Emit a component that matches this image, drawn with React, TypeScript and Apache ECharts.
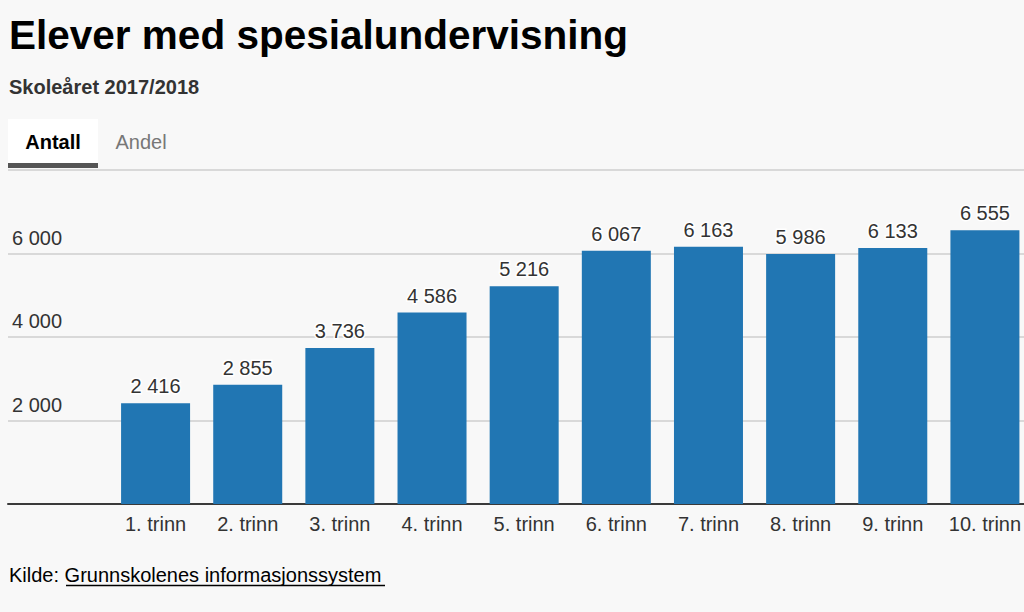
import React, { useEffect, useRef } from "react";
import * as echarts from "echarts";

const categories = ["1. trinn", "2. trinn", "3. trinn", "4. trinn", "5. trinn", "6. trinn", "7. trinn", "8. trinn", "9. trinn", "10. trinn"];
const values = [2416, 2855, 3736, 4586, 5216, 6067, 6163, 5986, 6133, 6555];
const yTicks = [0, 2000, 4000, 6000, 8000];

const titleText = "Elever med spesialundervisning";
const subtitleText = "Skoleåret 2017/2018";
const tabs = ["Antall", "Andel"];
const sourceLabel = "Kilde: ";
const sourceLink = "Grunnskolenes informasjonssystem";

const FONT = "'Liberation Sans', Arial, sans-serif";
const fmt = (v: number) => String(v).replace(/\B(?=(\d{3})+(?!\d))/g, " ");

export default function App() {
  const ref = useRef<HTMLDivElement>(null);
  useEffect(() => {
    document.body.style.margin = "0";
    const chart = echarts.init(ref.current!, undefined, { renderer: "svg" });
    const yMax = yTicks[yTicks.length - 1];
    chart.setOption({
      animation: false,
      backgroundColor: "#f8f8f8",
      textStyle: { fontFamily: FONT },
      grid: [
        { left: 8, right: 0, top: 170, bottom: 108, outerBoundsMode: "none", containLabel: false },
        { left: 109.5, width: 921.5, top: 170, bottom: 108, outerBoundsMode: "none", containLabel: false },
      ],
      xAxis: [
        {
          gridIndex: 0, type: "value", min: 0, max: 1,
          axisLine: { show: true, lineStyle: { color: "#3a3a3a", width: 2 } },
          axisTick: { show: false }, axisLabel: { show: false }, splitLine: { show: false },
        },
        {
          gridIndex: 1, type: "category", data: categories,
          axisLine: { show: false }, axisTick: { show: false },
          axisLabel: { color: "#333", fontSize: 20, margin: 10, fontFamily: FONT, interval: 0 },
        },
      ],
      yAxis: [
        {
          gridIndex: 0, type: "value", min: 0, max: yMax, interval: 2000,
          axisLine: { show: false }, axisTick: { show: false },
          splitLine: { show: true, lineStyle: { color: "#d9d9d9", width: 2 } },
          axisLabel: {
            inside: true, margin: 4, align: "left", verticalAlign: "bottom", lineHeight: 32,
            color: "#333", fontSize: 20, fontFamily: FONT,
            formatter: (v: number) => (v === 0 || v === yMax ? "" : fmt(v)),
          },
        },
        {
          gridIndex: 1, type: "value", min: 0, max: yMax, interval: 2000, show: false,
          splitLine: { show: false },
        },
      ],
      series: [
        {
          type: "bar", xAxisIndex: 1, yAxisIndex: 1, data: values,
          barWidth: 69,
          itemStyle: { color: "#2176b3" },
          label: {
            show: true, position: "top", distance: 7,
            color: "#333", fontSize: 20, fontFamily: FONT,
            textBorderColor: "#ffffff", textBorderWidth: 3,
            formatter: (p: any) => fmt(p.value),
          },
        },
      ],
      graphic: [
        { type: "text", left: 9, top: 14, style: { text: titleText, font: `bold 40.5px ${FONT}`, fill: "#000" } },
        { type: "text", left: 9, top: 77, style: { text: subtitleText, font: `bold 20px ${FONT}`, fill: "#333" } },
        { type: "rect", shape: { x: 8, y: 119, width: 90, height: 46 }, style: { fill: "#ffffff" } },
        { type: "rect", shape: { x: 8, y: 163, width: 90, height: 5 }, style: { fill: "#555555" } },
        { type: "text", x: 53, y: 142, style: { text: tabs[0], font: `bold 20px ${FONT}`, fill: "#000", align: "center", verticalAlign: "middle" } },
        { type: "text", x: 141, y: 142, style: { text: tabs[1], font: `20px ${FONT}`, fill: "#777", align: "center", verticalAlign: "middle" } },
        {
          type: "text", x: 9, y: 575,
          style: {
            text: `{a|${sourceLabel}}{b|${sourceLink}}`, verticalAlign: "middle",
            rich: {
              a: { font: `20px ${FONT}`, fill: "#000" },
              b: { font: `20px ${FONT}`, fill: "#000" },
            },
          } as any,
        },
        { type: "line", shape: { x1: 66, y1: 585.5, x2: 385, y2: 585.5 }, style: { stroke: "#000", lineWidth: 1.5 } },
      ],
    });
    return () => chart.dispose();
  }, []);
  return <div ref={ref} style={{ position: "fixed", left: 0, top: 0, width: 1024, height: 612 }} />;
}
